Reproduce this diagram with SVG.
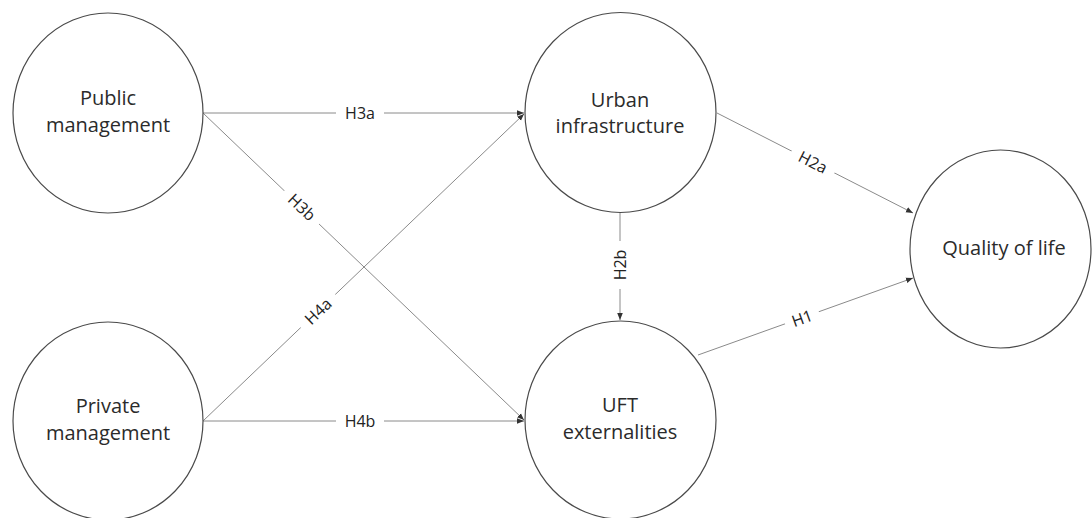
<svg xmlns="http://www.w3.org/2000/svg" width="1092" height="518" viewBox="0 0 1092 518">
<style>
.node{fill:#fff;stroke:#4a4a4a;stroke-width:1.2}
.nt{font-family:"Open Sans","Noto Sans",sans-serif;font-size:20px;fill:#2b2b2b;text-anchor:middle}
.edge{stroke:#8a8a8a;stroke-width:1;fill:none;marker-end:url(#ah)}
.lbl{font-family:"Open Sans","Noto Sans",sans-serif;font-size:16px;fill:#222;text-anchor:middle;dominant-baseline:central}
.bg{fill:#fff}
</style>
<defs>
<marker id="ah" viewBox="0 0 10 10" refX="10" refY="5" markerWidth="7" markerHeight="7" orient="auto" markerUnits="userSpaceOnUse">
<path d="M0,1 L10,5 L0,9 Z" fill="#333"/>
</marker>
</defs>
<rect width="1092" height="518" fill="#fff"/>
<g id="connectors">
<line class="edge" x1="203" y1="113" x2="524" y2="113"/>
<line class="edge" x1="203" y1="113" x2="524" y2="420"/>
<line class="edge" x1="203" y1="421" x2="524" y2="114"/>
<line class="edge" x1="203" y1="421" x2="524" y2="421"/>
<line class="edge" x1="717" y1="113" x2="913" y2="213"/>
<line class="edge" x1="698" y1="355" x2="913" y2="278"/>
<line class="edge" x1="620" y1="212" x2="620" y2="320"/>
<g>
<rect class="bg" x="336" y="104" width="48" height="18"/>
<text class="lbl" x="360" y="113">H3a</text>
</g>
<g transform="translate(302,207) rotate(43.6)">
<rect class="bg" x="-24" y="-9" width="48" height="18"/>
<text class="lbl" x="0" y="0">H3b</text>
</g>
<g transform="translate(318,311) rotate(-43.7)">
<rect class="bg" x="-24" y="-9" width="48" height="18"/>
<text class="lbl" x="0" y="0">H4a</text>
</g>
<g>
<rect class="bg" x="336" y="412" width="48" height="18"/>
<text class="lbl" x="360" y="421">H4b</text>
</g>
<g transform="translate(813,162) rotate(27)">
<rect class="bg" x="-24" y="-9" width="48" height="18"/>
<text class="lbl" x="0" y="0">H2a</text>
</g>
<g transform="translate(802,318) rotate(-19.7)">
<rect class="bg" x="-18" y="-9" width="36" height="18"/>
<text class="lbl" x="0" y="0">H1</text>
</g>
<g transform="translate(620,265) rotate(-90)">
<rect class="bg" x="-24" y="-9" width="48" height="18"/>
<text class="lbl" x="0" y="0">H2b</text>
</g>
</g>
<g id="public-management">
<ellipse class="node" cx="108" cy="113" rx="95" ry="100"/>
<text class="nt" x="108" y="105">Public</text>
<text class="nt" x="108" y="132">management</text>
</g>
<g id="private-management">
<ellipse class="node" cx="108" cy="421" rx="95" ry="99"/>
<text class="nt" x="108" y="413">Private</text>
<text class="nt" x="108" y="440">management</text>
</g>
<g id="urban-infrastructure">
<ellipse class="node" cx="620.5" cy="112.5" rx="95.5" ry="100"/>
<text class="nt" x="620" y="107">Urban</text>
<text class="nt" x="620" y="133">infrastructure</text>
</g>
<g id="uft-externalities">
<ellipse class="node" cx="620.5" cy="420" rx="95.5" ry="99"/>
<text class="nt" x="620" y="412">UFT</text>
<text class="nt" x="620" y="439">externalities</text>
</g>
<g id="quality-of-life">
<ellipse class="node" cx="1000.5" cy="249" rx="90.5" ry="99"/>
<text class="nt" x="1004" y="255">Quality of life</text>
</g>
</svg>
